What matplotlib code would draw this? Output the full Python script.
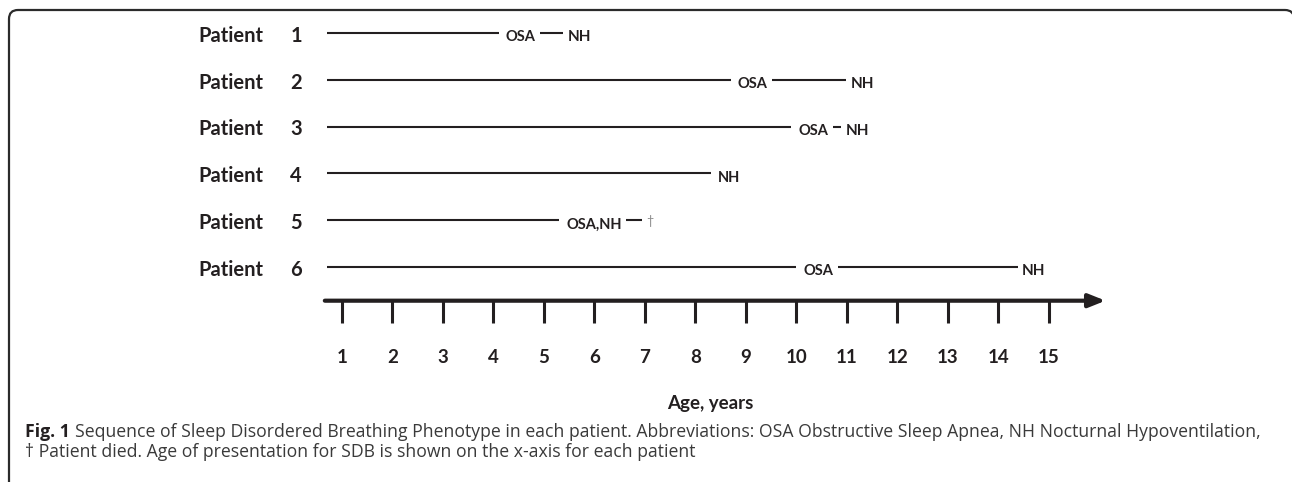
import numpy as np
import matplotlib.pyplot as plt
from matplotlib.patches import PathPatch
from matplotlib.path import Path
from matplotlib.transforms import IdentityTransform

plt.rcParams['font.family'] = ['Lato', 'DejaVu Sans']

# chart data: age (years) at which each phenotype shows up
patients = [1, 2, 3, 4, 5, 6]
first_onset = [4.1, 8.7, 9.9, 8.3, 5.3, 10.0]
first_label = ["OSA", "OSA", "OSA", "NH", "OSA,NH", "OSA"]
second_onset = [5.7, 11.3, 11.2, None, 7.1, 14.7]
second_label = ["NH", "NH", "NH", None, "\u2020", "NH"]
ages = list(range(1, 16))
start_age = 0.7

caption_1 = ("Sequence of Sleep Disordered Breathing Phenotype in each patient. "
             "Abbreviations: OSA Obstructive Sleep Apnea, NH Nocturnal Hypoventilation,")
caption_2 = ("\u2020 Patient died. Age of presentation for SDB is shown on the x-axis "
             "for each patient")

ink = '#231f20'

fig = plt.figure(figsize=(12.92, 4.82), dpi=100)
ax = fig.add_axes([0, 0, 1, 1])
ax.set_xlim(-5.772, 19.812)
ax.set_ylim(10.594, 0.295)
ax.axis('off')

renderer = fig.canvas.get_renderer()
inv = ax.transData.inverted()


def data_x(bbox):
    (x0, _), (x1, _) = inv.transform([[bbox.x0, bbox.y0], [bbox.x1, bbox.y1]])
    return x0, x1


gap = 0.09
for row, p in enumerate(patients, start=1):
    ax.text(-1.85, row + 0.06, "Patient", ha='left', va='center',
            fontsize=14.5, fontweight='bold', color=ink)
    ax.text(0.09, row + 0.06, str(p), ha='center', va='center',
            fontsize=14.5, fontweight='bold', color=ink)

    end = first_onset[row - 1]
    ax.plot([start_age, end], [row, row], color=ink, lw=1.5, solid_capstyle='butt')
    t1 = ax.text(end + 0.14, row + 0.09, first_label[row - 1], ha='left', va='center',
                 fontsize=10.5, fontweight='bold', color=ink)

    if second_onset[row - 1] is not None:
        if second_label[row - 1] == "\u2020":
            t2 = ax.text(second_onset[row - 1], row + 0.02, second_label[row - 1],
                         ha='center', va='center', fontsize=9, color='#8a8a8a')
        else:
            t2 = ax.text(second_onset[row - 1], row + 0.09, second_label[row - 1],
                         ha='center', va='center', fontsize=11,
                         fontweight='bold', color=ink)
        a0 = data_x(t1.get_window_extent(renderer))[1]
        b0 = data_x(t2.get_window_extent(renderer))[0]
        ax.plot([a0 + gap, b0 - gap], [row, row], color=ink, lw=1.5,
                solid_capstyle='butt')

# age axis with arrow
y_axis = 6.72
ax.annotate("", xy=(16.12, y_axis), xytext=(0.66, y_axis),
            arrowprops=dict(arrowstyle="-|>,head_length=1.0,head_width=0.4",
                            lw=3, color=ink, shrinkA=0, shrinkB=0))
ax.vlines(ages, y_axis, y_axis + 0.47, color=ink, lw=2.2)
for a in ages:
    ax.text(a, 7.93, str(a), ha='center', va='center', fontsize=13.5,
            fontweight='bold', color=ink)

fig.text(710 / 1292, 1 - 403 / 482, "Age, years", ha='center', va='center',
         fontsize=13.5, fontweight='bold', color=ink)

# caption
cap_font = ['Open Sans', 'DejaVu Sans']
fb = fig.text(25 / 1292, 1 - 432 / 482, "Fig. 1", ha='left', va='center',
              fontsize=12.7, fontweight='bold', color=ink, family=cap_font)
bb = fb.get_window_extent(renderer)
fig.text((bb.x1 + 5) / 1292, 1 - 432 / 482, caption_1, ha='left', va='center',
         fontsize=12.7, color='#3a3a3a', family=cap_font)
fig.text(25 / 1292, 1 - 452 / 482, caption_2, ha='left', va='center',
         fontsize=12.7, color='#3a3a3a', family=cap_font)

# panel frame: left side + top with rounded corners, the rest runs off the image
verts = [(9, -20), (9, 463), (9, 472), (18, 472),
         (1285, 472), (1294, 472), (1294, 463)]
codes = [Path.MOVETO, Path.LINETO, Path.CURVE3, Path.CURVE3,
         Path.LINETO, Path.CURVE3, Path.CURVE3]
frame = PathPatch(Path(verts, codes), transform=IdentityTransform(), fill=False,
                  edgecolor='#2b2b2b', lw=1.6)
fig.patches.append(frame)

fig.savefig("out.png", dpi=100)
